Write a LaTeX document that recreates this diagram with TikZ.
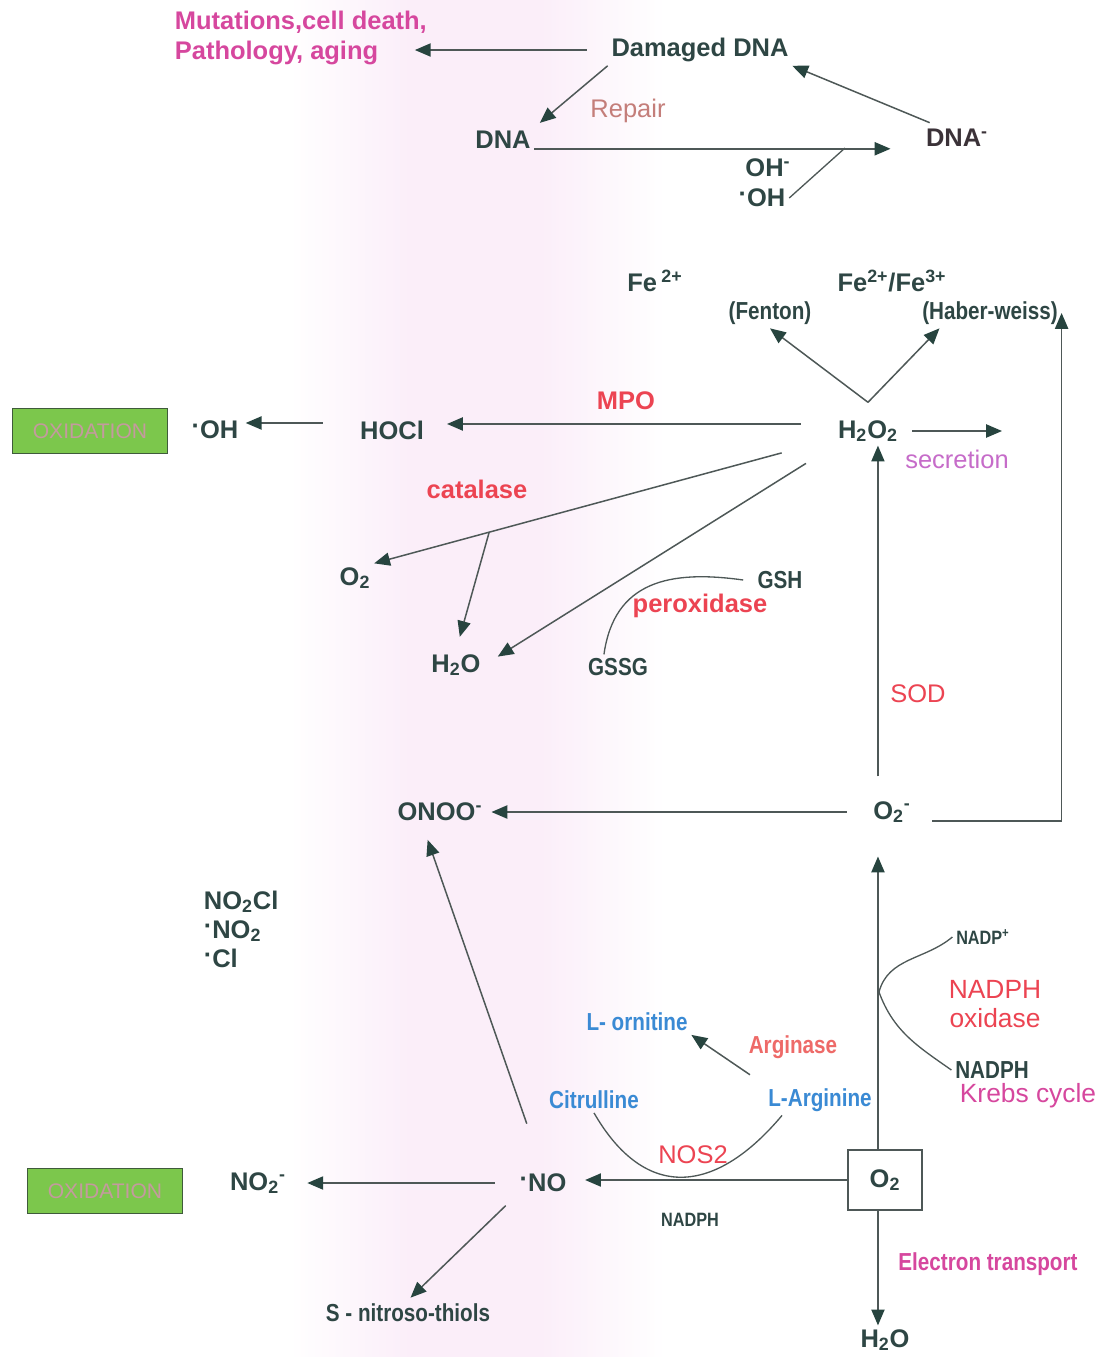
\documentclass[tikz,border=0pt]{standalone}
\usepackage{fontspec}
\setmainfont{Liberation Sans}
\newfontfamily\narrowfont[FakeStretch=0.84]{Liberation Sans}
\usetikzlibrary{arrows.meta,calc}
\definecolor{darktext}{HTML}{2E4644}
\definecolor{linecol}{HTML}{4E5857}
\definecolor{headcol}{HTML}{27443F}
\definecolor{enzred}{HTML}{EC4452}
\definecolor{arginred}{HTML}{EE6A68}
\definecolor{magen}{HTML}{D6479E}
\definecolor{chemblue}{HTML}{3A8AD4}
\definecolor{secrcol}{HTML}{C66CC9}
\definecolor{repaircol}{HTML}{C47E7A}
\definecolor{oxgreen}{HTML}{7CC74C}
\definecolor{oxedge}{HTML}{3F5B3B}
\definecolor{oxtext}{HTML}{C49A9E}
\definecolor{bandpink}{HTML}{FBEEF9}
\definecolor{dnamcol}{HTML}{3B3238}
\newcommand{\rad}{\raisebox{0.3ex}{·}}
\begin{document}
\begin{tikzpicture}[x=0.02cm, y=-0.02cm,
        lbl/.style={text=darktext, inner sep=2pt, font=\fontsize{14.5}{17.5}\selectfont\bfseries},
        reglbl/.style={inner sep=2pt, font=\fontsize{14.5}{17.5}\selectfont},
        enz/.style={text=enzred, inner sep=2pt, font=\fontsize{14.5}{17.5}\selectfont\bfseries},
        nar/.style={inner sep=2pt, font=\narrowfont\fontsize{14}{16.5}\selectfont\bfseries},
        tinylbl/.style={text=darktext, inner sep=2pt, font=\narrowfont\fontsize{11}{13}\selectfont\bfseries},
        oxbox/.style={draw=oxedge, fill=oxgreen, line width=0.8pt, text=oxtext, minimum width=88pt, minimum height=25.5pt, font=\fontsize{12}{14}\selectfont},
        arr/.style={draw=linecol, line width=0.85pt, -{Triangle[length=9pt,width=7.5pt,color=headcol]}},
        bond/.style={draw=linecol, line width=0.75pt}]
    \fill[white] (0,0) rectangle (1111,1357);
    \shade[left color=white, right color=bandpink] (290,0) rectangle (410,1357);
    \fill[bandpink] (410,0) rectangle (540,1357);
    \shade[left color=bandpink, right color=white] (540,0) rectangle (665,1357);
    \useasboundingbox (0,0) rectangle (1111,1357);

    \node (mut) at (171,38) [anchor=west, align=left, text=magen, inner sep=2pt, font=\fontsize{14.5}{17.6}\selectfont\bfseries] {Mutations,cell death,\\Pathology, aging};
    \node (dmg) at (700,50) [lbl] {Damaged DNA};
    \node (repair) at (628,111) [reglbl, text=repaircol] {Repair};
    \node (dna) at (503,140) [lbl] {DNA};
    \node (dnam) at (957,138) [lbl, text=dnamcol] {DNA\textsuperscript{-}};
    \node (oh) at (768,168) [lbl] {OH\textsuperscript{-}};
    \node (ohr) at (762,198) [lbl] {\rad OH};
    \coordinate (ohjoin) at (845,148);

    \node (fe2) at (655,281) [lbl] {Fe\,\textsuperscript{2+}};
    \node (fe23) at (892,281) [lbl] {Fe\textsuperscript{2+}/Fe\textsuperscript{3+}};
    \node (fenton) at (770,313) [nar, text=darktext] {(Fenton)};
    \node (haber) at (990,313) [nar, text=darktext] {(Haber-weiss)};
    \node (mpo) at (626,401) [enz] {MPO};
    \node (h2o2) at (868,431) [lbl] {H\textsubscript{2}O\textsubscript{2}};
    \node (hocl) at (392,430) [lbl] {HOCl};
    \node (ohrad) at (215,430) [lbl] {\rad OH};
    \node (ox1) at (90,431) [oxbox] {OXIDATION};
    \node (secr) at (957,459) [reglbl, text=secrcol] {secretion};
    \node (catal) at (477,489) [enz] {catalase};
    \node (o2a) at (355,578) [lbl] {O\textsubscript{2}};
    \node (h2oa) at (456,665) [lbl] {H\textsubscript{2}O};
    \node (gsh) at (780,580) [nar, text=darktext] {GSH};
    \node (perox) at (700,606) [enz] {peroxidase};
    \node (gssg) at (618,667) [nar, text=darktext] {GSSG};
    \node (sod) at (918,694) [reglbl, text=enzred] {SOD};

    \node (onoo) at (440,812) [lbl] {ONOO\textsuperscript{-}};
    \node (o2m) at (892,812) [lbl] {O\textsubscript{2}\textsuperscript{-}};
    \node (no2cl) at (200,929) [lbl, anchor=west, align=left, font=\fontsize{14.5}{16.5}\selectfont\bfseries] {NO\textsubscript{2}Cl\\\rad NO\textsubscript{2}\\\rad Cl};
    \node (nadpp) at (983,937) [tinylbl] {NADP\textsuperscript{+}};
    \node (nadphox) at (995,1004) [reglbl, text=enzred, align=center, font=\fontsize{15}{16.5}\selectfont] {NADPH\\oxidase};
    \node (lorn) at (637,1022) [nar, text=chemblue] {L- ornitine};
    \node (argin) at (793,1047) [nar, text=arginred] {Arginase};
    \node (nadph1) at (992,1070) [nar, text=darktext] {NADPH};
    \node (krebs) at (1028,1096) [reglbl, text=magen, font=\fontsize{15}{17}\selectfont] {Krebs cycle};
    \node (citr) at (594,1100) [nar, text=chemblue] {Citrulline};
    \node (larg) at (820,1100) [nar, text=chemblue] {L-Arginine};
    \node (nos2) at (693,1155) [reglbl, text=enzred] {NOS2};
    \node (o2box) at (885,1180) [draw=linecol, line width=0.8pt, fill=white, minimum width=42pt, minimum height=34pt, text=darktext, font=\fontsize{14.5}{17}\selectfont\bfseries] {O\textsubscript{2}};
    \node (no) at (543,1183) [lbl] {\rad NO};
    \node (no2m) at (258,1183) [lbl] {NO\textsubscript{2}\textsuperscript{-}};
    \node (ox2) at (105,1191) [oxbox] {OXIDATION};
    \node (nadph2) at (690,1220) [tinylbl] {NADPH};
    \node (snt) at (408,1313) [nar, text=darktext] {S - nitroso-thiols};
    \node (elec) at (988,1264) [nar, text=magen] {Electron transport};
    \node (h2ob) at (885,1340) [lbl] {H\textsubscript{2}O};

    \draw[arr, shorten <=12pt, shorten >=-9pt] (dmg.west) -- (dmg.west -| mut.east);
    \draw[arr, shorten >=4pt] (dmg.south west) -- (dna.north east);
    \draw[arr, shorten >=18pt] (dna.base east) -- (dna.base east -| dnam.west);
    \draw[arr, shorten <=4pt] ([xshift=8pt]dnam.north west) -- (dmg.south east);
    \draw[bond] (ohr.east) -- (ohjoin);

    \coordinate (fork) at ([yshift=8pt]h2o2.north);
    \draw[arr] (fork) -- (fenton.south);
    \draw[arr] (fork) -- ([xshift=12pt]haber.south west);
    \coordinate (mpoline) at ([yshift=4pt]h2o2.west);
    \draw[arr, shorten <=19pt, shorten >=11pt] (mpoline) -- (mpoline -| hocl.east);
    \draw[arr, shorten <=19pt, shorten >=2pt] ([yshift=4pt]hocl.west) -- ([yshift=4pt]ohrad.east);
    \draw[arr, shorten <=6pt, shorten >=6pt] (h2o2.east) -- (h2o2.east -| secr.east);
    \draw[arr, shorten <=31pt] ([yshift=4pt]h2o2.south west) -- (o2a.north east);
    \coordinate (catbranch) at ($([yshift=4pt]h2o2.south west)!0.75!(o2a.north east)$);
    \draw[arr, shorten >=8pt] (catbranch) -- (h2oa.north);
    \draw[arr, shorten <=19pt, shorten >=9pt] (h2o2.south west) -- (h2oa.east);
    \draw[bond] ([xshift=-6pt]gsh.west) to[out=172, in=82, looseness=1.2] ([xshift=-8pt]gssg.north);

    \coordinate (sodfoot) at ([xshift=-8pt]o2m.north);
    \draw[arr, shorten <=12pt] (sodfoot) -- (sodfoot |- h2o2.south);
    \draw[arr, shorten <=10pt] ([yshift=-5pt]o2m.east) -| (haber.east);
    \draw[arr, shorten <=13pt, shorten >=3pt] (o2m.west) -- (onoo.east);
    \draw[arr, shorten <=28pt, shorten >=9pt] (no.north) -- ([xshift=-10pt]onoo.south);

    \coordinate (boxtop) at ([xshift=-4pt]o2box.north);
    \draw[arr, shorten >=17pt] (boxtop) -- (boxtop |- o2m.south);
    \draw[arr, shorten >=8.5pt] (o2box.west) -- (o2box.west -| no.east);
    \draw[arr, shorten <=12pt, shorten >=10pt] (no.west) -- (no2m.east);
    \draw[arr, shorten <=8pt, shorten >=2pt] (no.south west) -- (snt.north);
    \coordinate (boxfoot) at ([xshift=-4pt]o2box.south);
    \draw[arr] (boxfoot) -- (boxfoot |- h2ob.north);
    \draw[arr, shorten <=10pt] (larg.north west) -- (lorn.south east);
    \draw[bond] (citr.south) to[out=-60, in=-130, looseness=1.4] ([xshift=10pt]larg.south west);
    \coordinate (nadpvertex) at (879,992);
    \draw[bond] (nadpp.west) to[out=-140, in=75] (nadpvertex) to[out=-70, in=145] (nadph1.west);
\end{tikzpicture}
\end{document}
